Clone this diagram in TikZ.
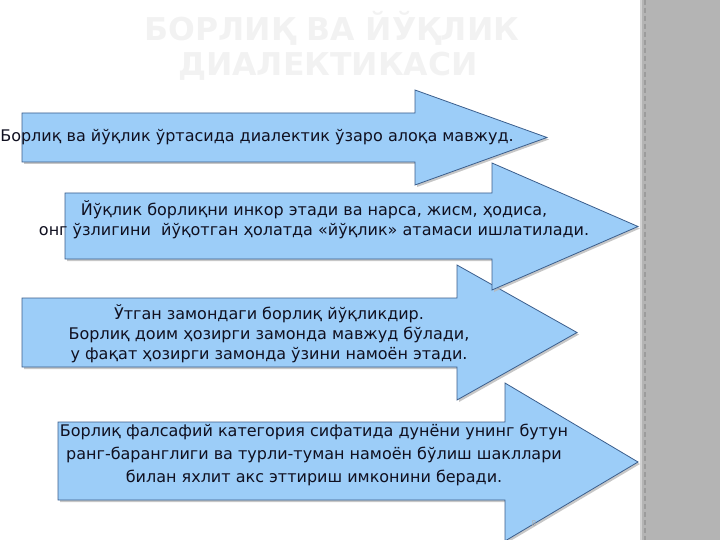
\documentclass[tikz,border=0pt]{standalone}
\usepackage{fontspec}
\setmainfont{DejaVu Sans}
\usetikzlibrary{shadows}
\definecolor{arrowblue}{HTML}{9CCDF8}
\definecolor{arrowline}{HTML}{3B5E8C}
\definecolor{stripgray}{HTML}{B4B4B4}
\definecolor{txt}{HTML}{101020}
\tikzset{
  bigarrow/.style={fill=arrowblue, draw=arrowline, line width=0.8pt, line join=miter,
    drop shadow={shadow xshift=2pt, shadow yshift=-2pt, fill=gray!55, opacity=0.8}},
  arrowtext/.style={text=txt, font=\fontsize{16}{20}\selectfont, align=center, inner sep=0pt},
  titletext/.style={text=gray!10, font=\bfseries\fontsize{31.5}{36}\selectfont, inner sep=0pt}
}
\begin{document}
\begin{tikzpicture}[x=1pt,y=-1pt]
\useasboundingbox (0,0) rectangle (720,540);
\clip (0,0) rectangle (720,540);
% right strip
\fill[stripgray] (640,0) rectangle (720,540);
\draw[gray!35, line width=2pt] (641,0) -- (641,540);
\draw[gray!70!black!60, line width=2pt, dash pattern=on 5pt off 3pt] (644.5,0) -- (644.5,540);
% title (faint)
\node[titletext] (t1) at (332,28) {БОРЛИҚ ВА ЙЎҚЛИК};
\node[titletext] (t2) at (328,66) {ДИАЛЕКТИКАСИ};
% arrow 4 (drawn first, lowest)
\draw[bigarrow] (58,422) -- (505,422) -- (505,383) -- (638,462) -- (505,541) -- (505,500) -- (58,500) -- cycle;
% arrow 3
\draw[bigarrow] (22,298) -- (457,298) -- (457,265) -- (577,332.5) -- (457,400) -- (457,367) -- (22,367) -- cycle;
% arrow 2
\draw[bigarrow] (65,193) -- (492,193) -- (492,163) -- (638,226.5) -- (492,290) -- (492,259) -- (65,259) -- cycle;
% arrow 1
\draw[bigarrow] (22,113) -- (415,113) -- (415,90) -- (547,137.5) -- (415,185) -- (415,162) -- (22,162) -- cycle;
% texts
\node[arrowtext] (a1) at (257,137) {Борлиқ ва йўқлик ўртасида диалектик ўзаро алоқа мавжуд.};
\node[arrowtext] (a2) at (314,220) {Йўқлик борлиқни инкор этади ва нарса, жисм, ҳодиса,\\онг ўзлигини\ \ йўқотган ҳолатда «йўқлик» атамаси ишлатилади.};
\node[arrowtext] (a3) at (269,334) {Ўтган замондаги борлиқ йўқликдир.\\Борлиқ доим ҳозирги замонда мавжуд бўлади,\\у фақат ҳозирги замонда ўзини намоён этади.};
\node[arrowtext, font=\fontsize{16}{23}\selectfont] (a4) at (314,455) {Борлиқ фалсафий категория сифатида дунёни унинг бутун\\ранг-баранглиги ва турли-туман намоён бўлиш шакллари\\билан яхлит акс эттириш имконини беради.};
\node[text=gray!60, font=\fontsize{8}{9}\selectfont, inner sep=0pt] (pg) at (534,524) {8};
\end{tikzpicture}
\end{document}
